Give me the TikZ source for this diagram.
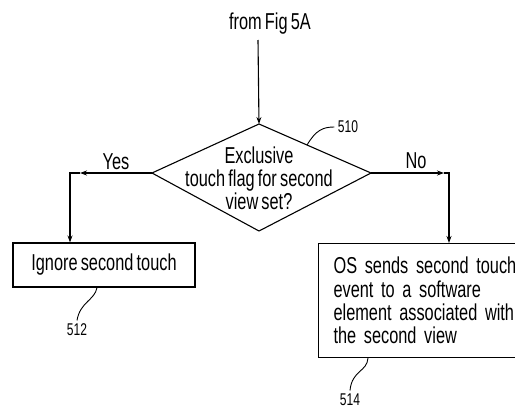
\documentclass[tikz,border=0pt]{standalone}
\usepackage{fontspec}
\setmainfont{Liberation Sans}[FakeStretch=0.71, WordSpace=0.7]
\usetikzlibrary{arrows.meta}

\begin{document}
\begin{tikzpicture}[
            x=1pt, y=-1pt,
            line width=1.1pt,
            flow/.style={-{Stealth[length=7pt,width=5pt]}},
            txt/.style={font=\fontsize{23}{23.3}\selectfont, inner sep=0pt},
            refnum/.style={font=\fontsize{17}{18}\selectfont, inner sep=3pt},
            box/.style={draw, txt},
        ]
            \clip (0,0) rectangle (515,410);

            % 判断框 510
            \coordinate (q-top) at (259,124);
            \coordinate (q-left) at (152,173);
            \coordinate (q-right) at (371,173);
            \coordinate (q-bot) at (259,231);
            \draw (q-top) -- (q-right) -- (q-bot) -- (q-left) -- cycle;
            \node[txt, align=center, anchor=north] (q) at (259,146) {Exclusive\\touch flag for second\\view set?};

            \node[txt, anchor=base] (from) at (270,29) {from Fig 5A};
            \coordinate (in) at (258,40);
            \draw[flow] (in) -- (q-top);

            \node[box, minimum width=182pt, minimum height=44pt] (ignore) at (104,265) {Ignore second touch};
            \node[box, anchor=north west, text width=215pt, align=left, inner xsep=15pt, inner ysep=13.5pt, minimum height=114pt] (os) at (318,243) {OS sends second touch\\event to a software\\element associated with\\the second view};

            % Yes 分支
            \coordinate (yes-tip) at (80,173);
            \coordinate (yes-turn) at (70,173);
            \draw[flow] (q-left) -- (yes-tip);
            \draw[flow] (yes-tip) -- (yes-turn) -- (yes-turn |- ignore.north);
            \node[txt, anchor=base] (yes) at (116,169) {Yes};

            % No 分支
            \coordinate (no-tip) at (444,173);
            \coordinate (no-turn) at (449,173);
            \draw[flow] (q-right) -- (no-tip);
            \draw[flow] (no-tip) -- (no-turn) -- (no-turn |- os.north);
            \node[txt, anchor=base] (no) at (416,168) {No};

            % 标号
            \node[refnum] (r510) at (348,127) {510};
            \node[refnum] (r512) at (77,330) {512};
            \node[refnum] (r514) at (350,400) {514};
            \coordinate (l510) at (307,145);
            \draw[line width=0.9pt] (l510) .. controls (316,130) and (323,127) .. (r510.west);
            \draw[line width=0.9pt] ([xshift=-7pt]ignore.south) .. controls (95,300) and (80,302) .. (r512.north);
            \draw[line width=0.9pt] ([xshift=50pt]os.south west) .. controls (367,372) and (352,370) .. (r514.north);
        \end{tikzpicture}
\end{document}
